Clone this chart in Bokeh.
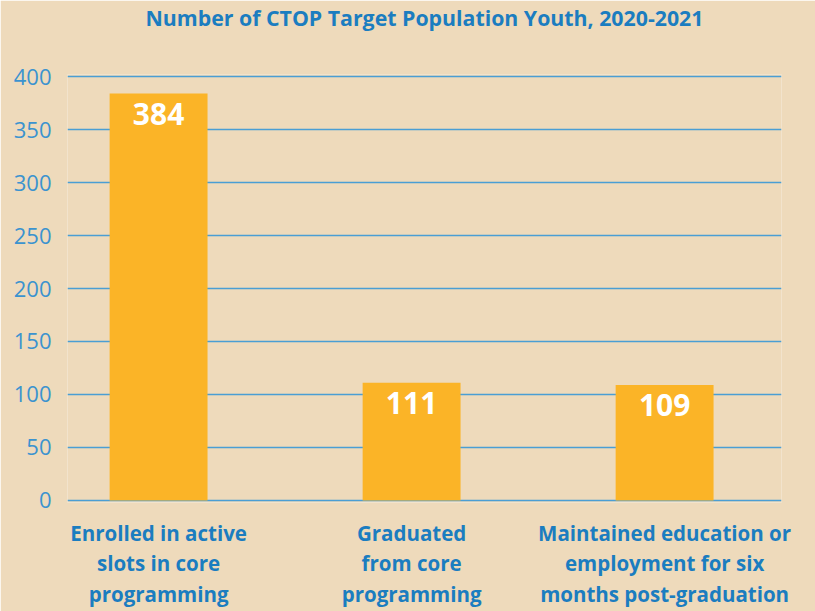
from bokeh.plotting import figure
from bokeh.models import ColumnDataSource, LabelSet, FixedTicker, Range1d, Title
from bokeh.core.properties import value
from bokeh.embed import file_html
from bokeh.resources import INLINE

categories = ["Enrolled in active\nslots in core\nprogramming",
              "Graduated\nfrom core\nprogramming",
              "Maintained education or\nemployment for six\nmonths post-graduation"]
counts = [384, 111, 109]
y_ticks = [0, 50, 100, 150, 200, 250, 300, 350, 400]
title_text = "Number of CTOP Target Population Youth, 2020-2021"

BG = "#eedabb"
BLUE = "#1b7dc0"
LIGHT_BLUE = "#3b93cf"
GRID = "#4a9ed4"
BAR = "#fbb427"
FONT = "Open Sans"

xs = list(range(len(categories)))
src = ColumnDataSource(dict(x=xs, y=counts, lab=[str(c) for c in counts]))

p = figure(width=815, height=611, output_backend="svg", toolbar_location=None,
           x_range=Range1d(-0.36, 2.462), y_range=Range1d(-2, 402),
           min_border_left=67, min_border_right=34, min_border_top=72, min_border_bottom=109)
p.background_fill_color = BG
p.border_fill_color = BG
p.outline_line_color = None

p.vbar(x="x", top="y", width=0.387, source=src, fill_color=BAR, line_color=None)

labels = LabelSet(x="x", y="y", text="lab", source=src, text_align="center", text_baseline="top",
                  y_offset=-9, text_color="white", text_font=value(FONT), text_font_style="bold",
                  text_font_size="30px")
p.add_layout(labels)

# trailing blank line lifts the visible title line toward the top of the page
t = Title(text=title_text + "\n ", align="center", text_color=BLUE, text_font=FONT,
          text_font_style="bold", text_font_size="21.3px", text_line_height=1.42, standoff=2)
p.add_layout(t, "above")

p.xgrid.grid_line_color = None
p.ygrid.grid_line_color = GRID
p.ygrid.grid_line_width = 1.4
p.ygrid.ticker = FixedTicker(ticks=y_ticks)

p.yaxis.ticker = FixedTicker(ticks=y_ticks)
p.yaxis.axis_line_color = None
p.yaxis.major_tick_line_color = None
p.yaxis.minor_tick_line_color = None
p.yaxis.major_label_text_color = LIGHT_BLUE
p.yaxis.major_label_text_font = FONT
p.yaxis.major_label_text_font_size = "22px"
p.yaxis.major_label_standoff = 10

p.xaxis.ticker = FixedTicker(ticks=xs)
p.xaxis.major_label_overrides = {i: c for i, c in zip(xs, categories)}
p.xaxis.axis_line_color = None
p.xaxis.major_tick_line_color = None
p.xaxis.minor_tick_line_color = None
p.xaxis.major_label_text_color = BLUE
p.xaxis.major_label_text_font = FONT
p.xaxis.major_label_text_font_style = "bold"
p.xaxis.major_label_text_font_size = "20.5px"
p.xaxis.major_label_text_line_height = 1.1
p.xaxis.major_label_standoff = 10

open("out.html", "w").write(file_html(p, INLINE))
